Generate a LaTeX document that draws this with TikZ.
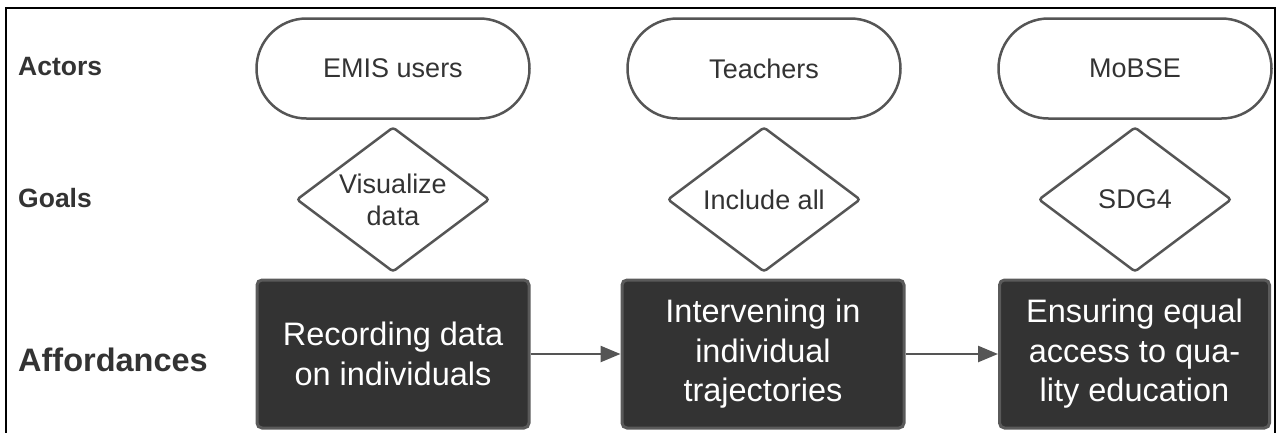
\documentclass[tikz,border=0pt]{standalone}
\usepackage{fontspec}
\setmainfont{Liberation Sans}
\usetikzlibrary{shapes.geometric,arrows.meta}
\definecolor{txtgray}{HTML}{333333}
\definecolor{linegray}{HTML}{555555}
\definecolor{darkfill}{HTML}{333333}
\definecolor{darkborder}{HTML}{5A5A5A}
\tikzset{
  rowlabel/.style={anchor=base west, inner sep=0pt, text=txtgray, font=\bfseries\fontsize{26.5}{31}\selectfont},
  biglabel/.style={anchor=base west, inner sep=0pt, text=txtgray, font=\bfseries\fontsize{32.5}{38}\selectfont},
  pill/.style={draw=linegray, line width=2.5pt, rounded corners=50pt, minimum width=273pt, minimum height=100pt, inner sep=0pt, text=txtgray, font=\fontsize{27}{32}\selectfont},
  goal/.style={diamond, aspect=1.33, draw=linegray, line width=2.5pt, rounded corners=3pt, minimum width=193pt, minimum height=145pt, inner sep=0pt, align=center, text=txtgray, font=\fontsize{27}{32}\selectfont},
  afford/.style={draw=darkborder, fill=darkfill, line width=3pt, rounded corners=5pt, minimum height=148pt, inner sep=0pt, align=center, text=white, font=\fontsize{32.5}{39.5}\selectfont},
  arr/.style={draw=linegray, line width=2.5pt, -{Triangle[length=20pt,width=16pt]}},
  frame/.style={draw=black, line width=2pt}
}
\begin{document}
\begin{tikzpicture}[x=1pt,y=-1pt]
\useasboundingbox (0,0) rectangle (1278,432);
\draw[frame] (6,440) -- (6,8) -- (1275,8) -- (1275,440);
% row labels
\node[rowlabel] (lactors) at (18,75) {Actors};
\node[rowlabel] (lgoals) at (18,207) {Goals};
\node[biglabel] (laff) at (18,371) {Affordances};
% actors
\node[pill] (a1) at (393,68.5) {EMIS users};
\node[pill] (a2) at (764,68.5) {Teachers};
\node[pill] (a3) at (1135,68.5) {MoBSE};
% goals
\node[goal] (g1) at (393,199.5) {Visualize\\data};
\node[goal] (g2) at (764,199.5) {Include all};
\node[goal] (g3) at (1135,199.5) {SDG4};
% affordances
\node[afford, minimum width=272pt] (b1) at (393,354) {Recording data\\on individuals};
\node[afford, minimum width=282pt] (b2) at (763,354) {Intervening in\\individual\\trajectories};
\node[afford, minimum width=270pt] (b3) at (1134.5,354) {Ensuring equal\\access to qua-\\lity education};
% connectors
\draw[arr] (b1.east) -- (b2.west);
\draw[arr] (b2.east) -- (b3.west);
\end{tikzpicture}
\end{document}
